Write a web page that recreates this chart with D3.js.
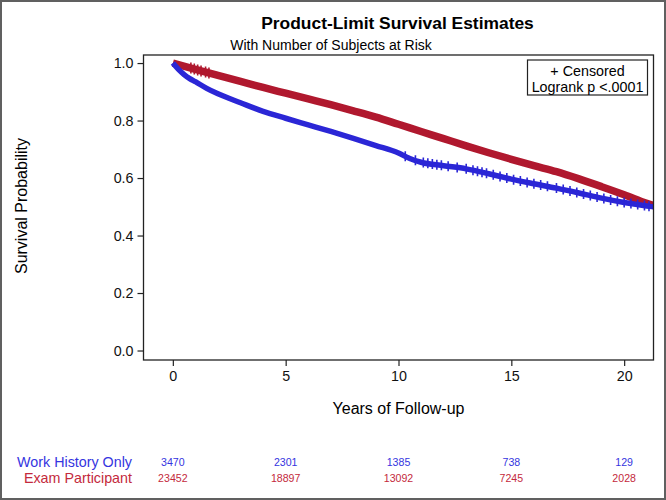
<!DOCTYPE html>
<html>
<head>
<meta charset="utf-8">
<script src="https://cdn.jsdelivr.net/npm/d3@7"></script>
<style>
html,body{margin:0;padding:0;background:#fff;}
text{font-family:"Liberation Sans", Arial, sans-serif;}
</style>
</head>
<body>
<svg id="chart" width="666" height="500"></svg>
<script>
// ---- data ----
const seriesNames = ["Work History Only", "Exam Participant"];
const blueTimes = [0, 0.25, 0.5, 0.75, 1, 1.5, 2, 3, 4, 5, 6, 7, 8, 9, 10, 10.5, 11, 12, 13, 14, 15, 16, 17, 18, 19, 20, 21, 21.3];
const blueSurv  = [1.0, 0.978, 0.96, 0.946, 0.935, 0.912, 0.893, 0.862, 0.832, 0.808, 0.785, 0.762, 0.738, 0.713, 0.687, 0.668, 0.655, 0.643, 0.632, 0.615, 0.596, 0.580, 0.565, 0.548, 0.530, 0.515, 0.503, 0.500];
const redTimes  = [0, 1, 2, 3, 4, 5, 6, 7, 8, 9, 10, 11, 12, 13, 14, 15, 16, 17, 18, 19, 20, 21, 21.3];
const redSurv   = [1.0, 0.978, 0.957, 0.936, 0.915, 0.895, 0.875, 0.855, 0.834, 0.812, 0.787, 0.762, 0.737, 0.712, 0.688, 0.665, 0.643, 0.622, 0.597, 0.570, 0.542, 0.512, 0.504];
const blueCensor = [10.3, 10.75, 11.1, 11.3, 11.5, 11.7, 11.9, 12.2, 12.6, 13.0, 13.3, 13.5, 13.7, 13.9, 14.2, 14.5, 14.8, 15.1, 15.4, 15.7, 16.0, 16.3, 16.6, 17.0, 17.3, 17.6, 17.9, 18.2, 18.5, 18.8, 19.1, 19.4, 19.7, 20.0, 20.3, 20.6, 20.9, 21.1];
const redCensor = [0.8, 0.95, 1.1, 1.25, 1.45, 1.6];
const xTicks = [0, 5, 10, 15, 20];
const yTicks = [0.0, 0.2, 0.4, 0.6, 0.8, 1.0];
const atRiskBlue = [3470, 2301, 1385, 738, 129];
const atRiskRed  = [23452, 18897, 13092, 7245, 2028];

const blue = "#2b26d6", red = "#b0182e";
const blueText = "#3535e0", redText = "#c42a3c";

const svg = d3.select("#chart");
const x = d3.scaleLinear().domain([-1.3, 21.3]).range([143.5, 653.5]);
const y = d3.scaleLinear().domain([-0.033, 1.028]).range([360, 55]);

// outer border
svg.append("rect").attr("x",1).attr("y",1).attr("width",664).attr("height",498)
  .attr("fill","#fff").attr("stroke","#606060").attr("stroke-width",2);

// titles
svg.append("text").attr("x",397.5).attr("y",28.5).attr("text-anchor","middle")
  .attr("font-size","17.4px").attr("font-weight","bold").text("Product-Limit Survival Estimates");
svg.append("text").attr("x",331).attr("y",50).attr("text-anchor","middle")
  .attr("font-size","14px").text("With Number of Subjects at Risk");

// clip
svg.append("clipPath").attr("id","clip").append("rect")
  .attr("x",143.5).attr("y",55).attr("width",510).attr("height",305);

const g = svg.append("g").attr("clip-path","url(#clip)");
const line = d3.line().x(d=>x(d[0])).y(d=>y(d[1])).curve(d3.curveMonotoneX);

function interp(times, surv, t){
  for(let i=1;i<times.length;i++){
    if(t<=times[i]){
      const f=(t-times[i-1])/(times[i]-times[i-1]);
      return surv[i-1]+f*(surv[i]-surv[i-1]);
    }
  }
  return surv[surv.length-1];
}

g.append("path").datum(redTimes.map((t,i)=>[t,redSurv[i]]))
  .attr("d",line).attr("fill","none").attr("stroke",red).attr("stroke-width",7.5);
g.append("path").datum(blueTimes.map((t,i)=>[t,blueSurv[i]]))
  .attr("d",line).attr("fill","none").attr("stroke",blue).attr("stroke-width",5.5);

function censor(times, surv, cs, color, h, w){
  const grp = g.append("g").attr("stroke",color).attr("stroke-width",1.6);
  cs.forEach(t=>{
    const cx=x(t), cy=y(interp(times,surv,t));
    grp.append("line").attr("x1",cx).attr("x2",cx).attr("y1",cy-h).attr("y2",cy+h);
    grp.append("line").attr("x1",cx-w).attr("x2",cx+w).attr("y1",cy).attr("y2",cy);
  });
}
censor(redTimes, redSurv, redCensor, red, 5.5, 4);
censor(blueTimes, blueSurv, blueCensor, blue, 5, 4);

// frame
svg.append("rect").attr("x",143.5).attr("y",55).attr("width",510).attr("height",305)
  .attr("fill","none").attr("stroke","#222").attr("stroke-width",1.3);

// axes
const xAxis = svg.append("g").attr("transform","translate(0,360)")
  .call(d3.axisBottom(x).tickValues(xTicks).tickSize(6).tickPadding(5).tickFormat(d3.format("d")));
const yAxis = svg.append("g").attr("transform","translate(143.5,0)")
  .call(d3.axisLeft(y).tickValues(yTicks).tickSize(6).tickPadding(4).tickFormat(d3.format(".1f")));
[xAxis,yAxis].forEach(a=>{
  a.select(".domain").remove();
  a.selectAll(".tick line").attr("stroke","#222").attr("stroke-width",1.2);
  a.selectAll(".tick text").attr("font-size","14.3px").attr("fill","#111")
   .style("font-family",'"Liberation Sans", Arial, sans-serif');
});

svg.append("text").attr("x",398.5).attr("y",414).attr("text-anchor","middle")
  .attr("font-size","16px").text("Years of Follow-up");
svg.append("text").attr("transform","translate(27,206) rotate(-90)").attr("text-anchor","middle")
  .attr("font-size","16px").text("Survival Probability");

// legend box
svg.append("rect").attr("x",527.5).attr("y",60).attr("width",120).attr("height",35)
  .attr("fill","#fff").attr("stroke","#222").attr("stroke-width",1.2);
svg.append("text").attr("x",587.5).attr("y",75.5).attr("text-anchor","middle")
  .attr("font-size","14.3px").text("+ Censored");
svg.append("text").attr("x",587.5).attr("y",92).attr("text-anchor","middle")
  .attr("font-size","14.3px").text("Logrank p <.0001");

// at risk table
svg.append("text").attr("x",132).attr("y",466.5).attr("text-anchor","end")
  .attr("font-size","14.3px").attr("fill",blueText).text(seriesNames[0]);
svg.append("text").attr("x",132).attr("y",483).attr("text-anchor","end")
  .attr("font-size","14.3px").attr("fill",redText).text(seriesNames[1]);
svg.selectAll(".arb").data(atRiskBlue).enter().append("text")
  .attr("x",(d,i)=>x(xTicks[i])).attr("y",465.5).attr("text-anchor","middle")
  .attr("font-size","10.6px").attr("fill",blueText).text(d=>d);
svg.selectAll(".arr").data(atRiskRed).enter().append("text")
  .attr("x",(d,i)=>x(xTicks[i])).attr("y",482).attr("text-anchor","middle")
  .attr("font-size","10.6px").attr("fill",redText).text(d=>d);
</script>
</body>
</html>
